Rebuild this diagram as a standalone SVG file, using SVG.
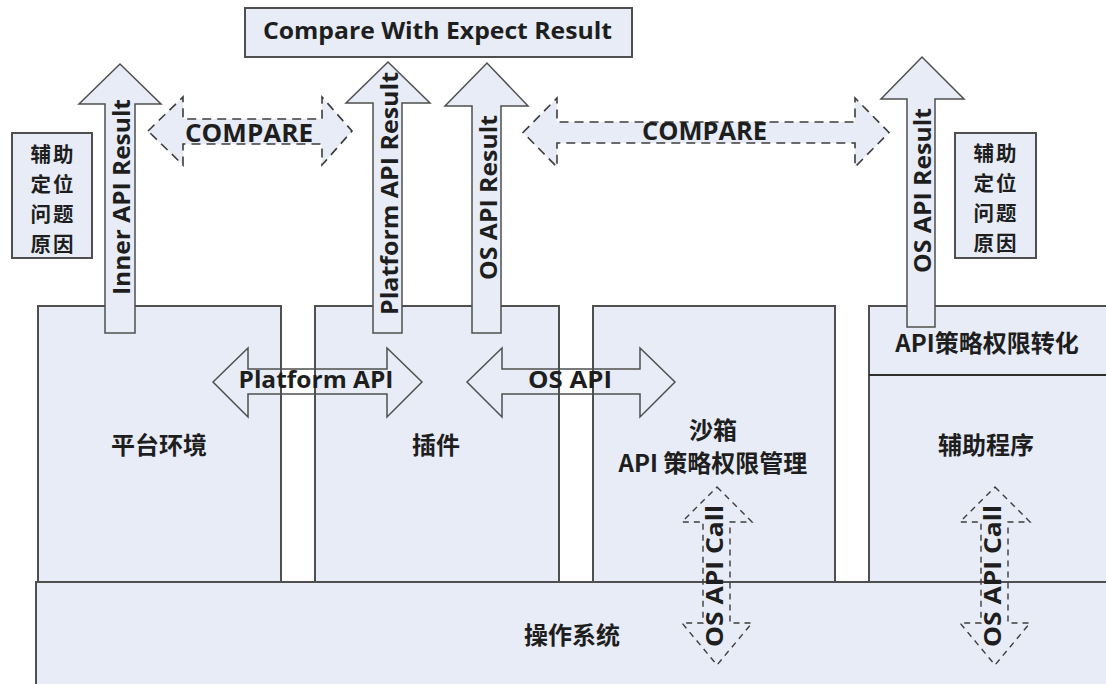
<svg xmlns="http://www.w3.org/2000/svg" width="1106" height="684" viewBox="0 0 1106 684">
<style>
.box{fill:#E7ECF6;stroke:#4f4f4f;stroke-width:2}
.arr{fill:#E7ECF6;stroke:#4f4f4f;stroke-width:1.5;stroke-linejoin:miter}
.harr{fill:none;stroke:#4f4f4f;stroke-width:1.5}
.darr{fill:#E7ECF6;stroke:#3c3c3c;stroke-width:1.6;stroke-dasharray:9 6}
.carr{fill:none;stroke:#3c3c3c;stroke-width:1.4;stroke-dasharray:6 5}
text{font-family:"Open Sans","Noto Sans CJK SC",sans-serif;font-weight:bold;fill:#1e1e1e}
.cjk{font-family:"Noto Sans CJK SC",sans-serif;font-size:24px;text-anchor:middle;dominant-baseline:central}
.note{font-family:"Noto Sans CJK SC",sans-serif;font-size:20.5px;letter-spacing:2px;text-anchor:middle;dominant-baseline:central}
.lat{text-anchor:middle}
.rot{text-anchor:middle;dominant-baseline:central;font-size:23px}
</style>
<rect width="1106" height="684" fill="#ffffff"/>
<g id="n-compare-expect">
<rect class="box" x="245" y="8" width="387" height="49"/>
<text class="lat" x="437.5" y="39" font-size="24" textLength="349" lengthAdjust="spacingAndGlyphs">Compare With Expect Result</text>
</g>
<g id="n-platform">
<rect class="box" x="38" y="306" width="243" height="276"/>
<text class="cjk" x="159" y="443">平台环境</text>
</g>
<g id="n-plugin">
<rect class="box" x="315" y="306" width="244" height="276"/>
<text class="cjk" x="436" y="443">插件</text>
</g>
<g id="n-sandbox">
<rect class="box" x="593" y="306" width="242" height="276"/>
<text class="cjk" x="713" y="428">沙箱</text>
<text class="cjk" x="713" y="461">API 策略权限管理</text>
</g>
<g id="n-helper">
<rect class="box" x="869" y="306" width="245" height="276"/>
<line x1="869" y1="375" x2="1110" y2="375" stroke="#2f2f2f" stroke-width="2"/>
<text class="cjk" x="987" y="341">API策略权限转化</text>
<text class="cjk" x="986" y="443">辅助程序</text>
</g>
<g id="n-os">
<rect class="box" x="36" y="582" width="1080" height="120"/>
<text class="cjk" x="572" y="633">操作系统</text>
</g>
<g id="n-note-left">
<rect class="box" x="12" y="133" width="80" height="125"/>
<text class="note"><tspan x="53" y="153">辅助</tspan><tspan x="53" y="183">定位</tspan><tspan x="53" y="213">问题</tspan><tspan x="53" y="243">原因</tspan></text>
</g>
<g id="n-note-right">
<rect class="box" x="955" y="133" width="81" height="125"/>
<text class="note"><tspan x="996" y="152">辅助</tspan><tspan x="996" y="182">定位</tspan><tspan x="996" y="212">问题</tspan><tspan x="996" y="242">原因</tspan></text>
</g>
<g id="connectors">
<g id="c-inner-result">
<polygon class="arr" points="105,333 105,104 79,104 120,64 161,104 135,104 135,333"/>
<text class="rot" transform="rotate(-90 121 197)" x="121" y="197" textLength="196" lengthAdjust="spacingAndGlyphs">Inner API Result</text>
</g>
<g id="c-platform-result">
<polygon class="arr" points="373,333 373,103 346,103 388,62 430,103 402,103 402,333"/>
<text class="rot" transform="rotate(-90 389 193.5)" x="389" y="193.5" textLength="243" lengthAdjust="spacingAndGlyphs">Platform API Result</text>
</g>
<g id="c-os-result-mid">
<polygon class="arr" points="472,333 472,106 445,106 487,63 528,106 501,106 501,333"/>
<text class="rot" transform="rotate(-90 488 197.5)" x="488" y="197.5" textLength="165" lengthAdjust="spacingAndGlyphs">OS API Result</text>
</g>
<g id="c-os-result-right">
<polygon class="arr" points="907,327 907,99 881,99 922,57 964,99 935,99 935,327"/>
<text class="rot" transform="rotate(-90 922 190.5)" x="922" y="190.5" textLength="165" lengthAdjust="spacingAndGlyphs">OS API Result</text>
</g>
<g id="c-compare-left">
<polygon class="darr" points="148,131 183,97 183,119 322,119 322,97 352,131 322,165 322,144 183,144 183,165"/>
<text class="lat" x="249" y="142" font-size="25" textLength="128" lengthAdjust="spacingAndGlyphs">COMPARE</text>
</g>
<g id="c-compare-right">
<polygon class="darr" points="523,132.5 557,98 557,122 855,122 855,98 889,132.5 855,167 855,143 557,143 557,167"/>
<text class="lat" x="704.5" y="140" font-size="25" textLength="125" lengthAdjust="spacingAndGlyphs">COMPARE</text>
</g>
<g id="c-platform-api">
<polygon class="harr" points="213,382 248,348 248,369 387,369 387,348 422,382 387,417 387,394 248,394 248,417"/>
<text class="lat" x="316" y="388" font-size="23" textLength="155" lengthAdjust="spacingAndGlyphs">Platform API</text>
</g>
<g id="c-os-api">
<polygon class="harr" points="467,382 502,348 502,369 640,369 640,348 675,382 640,417 640,394 502,394 502,417"/>
<text class="lat" x="570" y="388" font-size="23" textLength="84" lengthAdjust="spacingAndGlyphs">OS API</text>
</g>
<g id="c-os-call-left">
<polygon class="carr" points="717,487 752,522 730,522 730,623 752,623 717,665 682,623 703,623 703,522 682,522"/>
<text class="rot" transform="rotate(-90 714 576)" x="714" y="576" font-size="20" textLength="142" lengthAdjust="spacingAndGlyphs">OS API Call</text>
</g>
<g id="c-os-call-right">
<polygon class="carr" points="995,487 1030,522 1008,522 1008,623 1030,623 995,665 960,623 981,623 981,522 960,522"/>
<text class="rot" transform="rotate(-90 992 576)" x="992" y="576" font-size="20" textLength="142" lengthAdjust="spacingAndGlyphs">OS API Call</text>
</g>
</g>
</svg>
